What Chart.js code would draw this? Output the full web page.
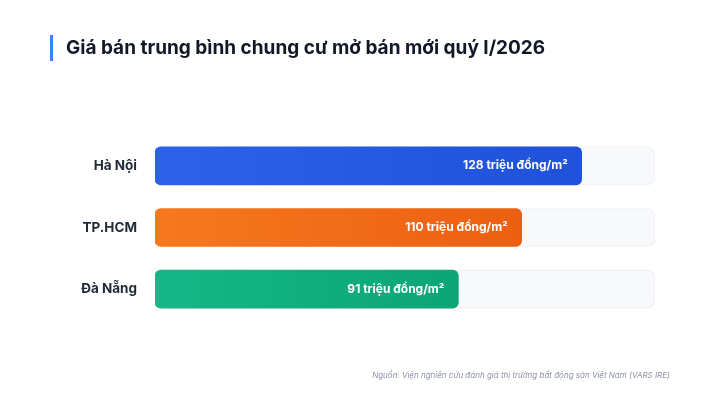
<!DOCTYPE html>
<html><head><meta charset="utf-8">
<script src="https://cdn.jsdelivr.net/npm/chart.js@4.4.1/dist/chart.umd.min.js"></script>
<style>
html,body{margin:0;padding:0;background:#fff;}
#wrap{position:relative;width:720px;height:405px;overflow:hidden;background:#fff;font-family:Inter,"Noto Sans",sans-serif;}
#title{position:absolute;left:50px;top:35px;height:26px;border-left:3px solid #3b82f6;padding-left:13px;font-size:19px;font-weight:700;color:#111827;line-height:26px;white-space:nowrap;}
#src{position:absolute;right:50px;top:370px;font-size:8px;font-style:italic;color:#8a93a3;white-space:nowrap;}
#cv{position:absolute;left:0;top:0;}
</style></head>
<body><div id="wrap">
<canvas id="cv" width="720" height="405"></canvas>
<div id="title">Giá bán trung bình chung cư mở bán mới quý I/2026</div>
<div id="src">Nguồn: Viện nghiên cứu đánh giá thị trường bất động sản Việt Nam (VARS IRE)</div>
</div>
<script>
const categories = ["Hà Nội", "TP.HCM", "Đà Nẵng"];
const values = [128, 110, 91];
const trackMax = 150;
const trackValues = [trackMax, trackMax, trackMax];
const unit = " triệu đồng/m²";
const gradStart = ["#2c62ea", "#f7781f", "#14b886"];
const gradEnd = ["#1d4ed8", "#e8560c", "#07986a"];

function barGrad(context){
  const chart = context.chart;
  const a = chart.chartArea;
  if(!a) return gradStart[context.dataIndex];
  const i = context.dataIndex;
  const g = chart.ctx.createLinearGradient(a.left,0,a.right,0);
  g.addColorStop(0, gradStart[i]);
  g.addColorStop(1, gradEnd[i]);
  return g;
}

const labelPlugin = {
  id:'valLabels',
  afterDatasetsDraw(chart){
    const meta = chart.getDatasetMeta(0);
    const ctx = chart.ctx;
    ctx.save();
    ctx.font = "700 12px Inter, 'Noto Sans', sans-serif";
    ctx.fillStyle = "#ffffff";
    ctx.textAlign = "right";
    ctx.textBaseline = "middle";
    meta.data.forEach((bar,i)=>{
      ctx.fillText(values[i] + unit, bar.x - 14, bar.y);
    });
    ctx.restore();
  }
};

new Chart(document.getElementById('cv'), {
  type:'bar',
  data:{
    labels:categories,
    datasets:[
      {data:values, backgroundColor:barGrad, borderRadius:6, borderSkipped:false, barThickness:38, grouped:false, order:1},
      {data:trackValues, backgroundColor:"#f8f9fb", borderColor:"#eceff3", borderWidth:1, borderRadius:8, borderSkipped:false, barThickness:38, grouped:false, order:2}
    ]
  },
  options:{
    indexAxis:'y',
    responsive:false,
    animation:false,
    devicePixelRatio:1,
    layout:{padding:{left:0,right:65,top:135,bottom:85}},
    plugins:{legend:{display:false},tooltip:{enabled:false},title:{display:false}},
    scales:{
      x:{min:0,max:trackMax,display:false},
      y:{
        grid:{display:false},border:{display:false},
        afterFit(s){ s.width = 155; },
        ticks:{padding:10,color:"#1f2937",font:{family:"Inter, 'Noto Sans', sans-serif",size:13.5,weight:'700'}}
      }
    }
  },
  plugins:[labelPlugin]
});
</script>
</body></html>
